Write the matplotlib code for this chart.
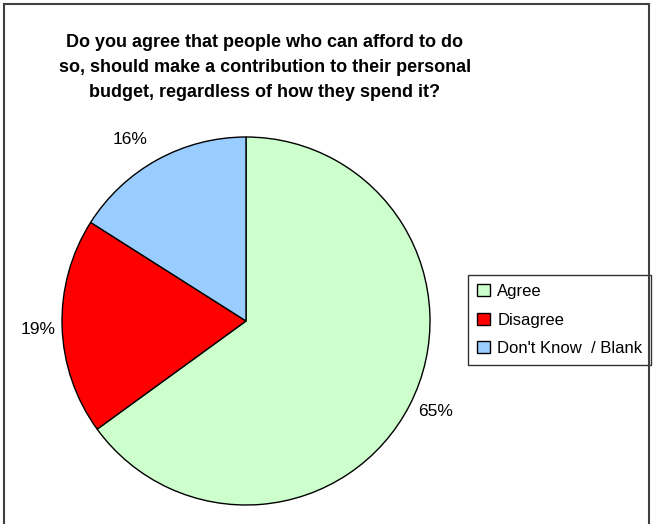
import matplotlib.pyplot as plt
from matplotlib.patches import Rectangle

labels = ['Agree', 'Disagree', "Don't Know  / Blank"]
values = [65, 19, 16]
colors = ['#ccffcc', '#ff0000', '#99ccff']
title = ('Do you agree that people who can afford to do\n'
         'so, should make a contribution to their personal\n'
         'budget, regardless of how they spend it?')

plt.rcParams['font.family'] = ['Liberation Sans', 'DejaVu Sans']

fig = plt.figure(figsize=(6.54, 5.24), dpi=100)
ax = fig.add_axes([0, 0, 1, 1])
ax.set_xlim(0, 654)
ax.set_ylim(0, 524)
ax.set_aspect('equal')
ax.axis('off')

wedges, texts, autotexts = ax.pie(
    values, colors=colors, startangle=90, counterclock=False,
    center=(246, 203), radius=184, autopct='%1.0f%%', pctdistance=1.15,
    wedgeprops=dict(edgecolor='black', linewidth=1.0),
    textprops=dict(fontsize=12.5))
# pct labels sit outside the pie, as in the original
autotexts[0].set_position((436, 113))
autotexts[1].set_position((38, 194))
autotexts[2].set_position((130, 384))
ax.set_xlim(0, 654)
ax.set_ylim(0, 524)

fig.text(0.405, 0.936, title, ha='center', va='top', fontsize=13,
         fontweight='bold', linespacing=1.65)

leg = ax.legend(wedges, labels, loc='upper left', bbox_to_anchor=(468 / 654, 1 - 275 / 524),
                fontsize=12, frameon=True, fancybox=False, edgecolor='black',
                handlelength=0.75, handleheight=0.75, handletextpad=0.45,
                labelspacing=0.8, borderpad=0.55, borderaxespad=0)
leg.get_frame().set_linewidth(1.0)

fig.patches.append(Rectangle((4 / 654, -0.02), 645 / 654, 1 - 4 / 524 + 0.02,
                             transform=fig.transFigure, fill=False,
                             edgecolor='#404040', linewidth=1.5))

fig.savefig('out.png', dpi=100)
